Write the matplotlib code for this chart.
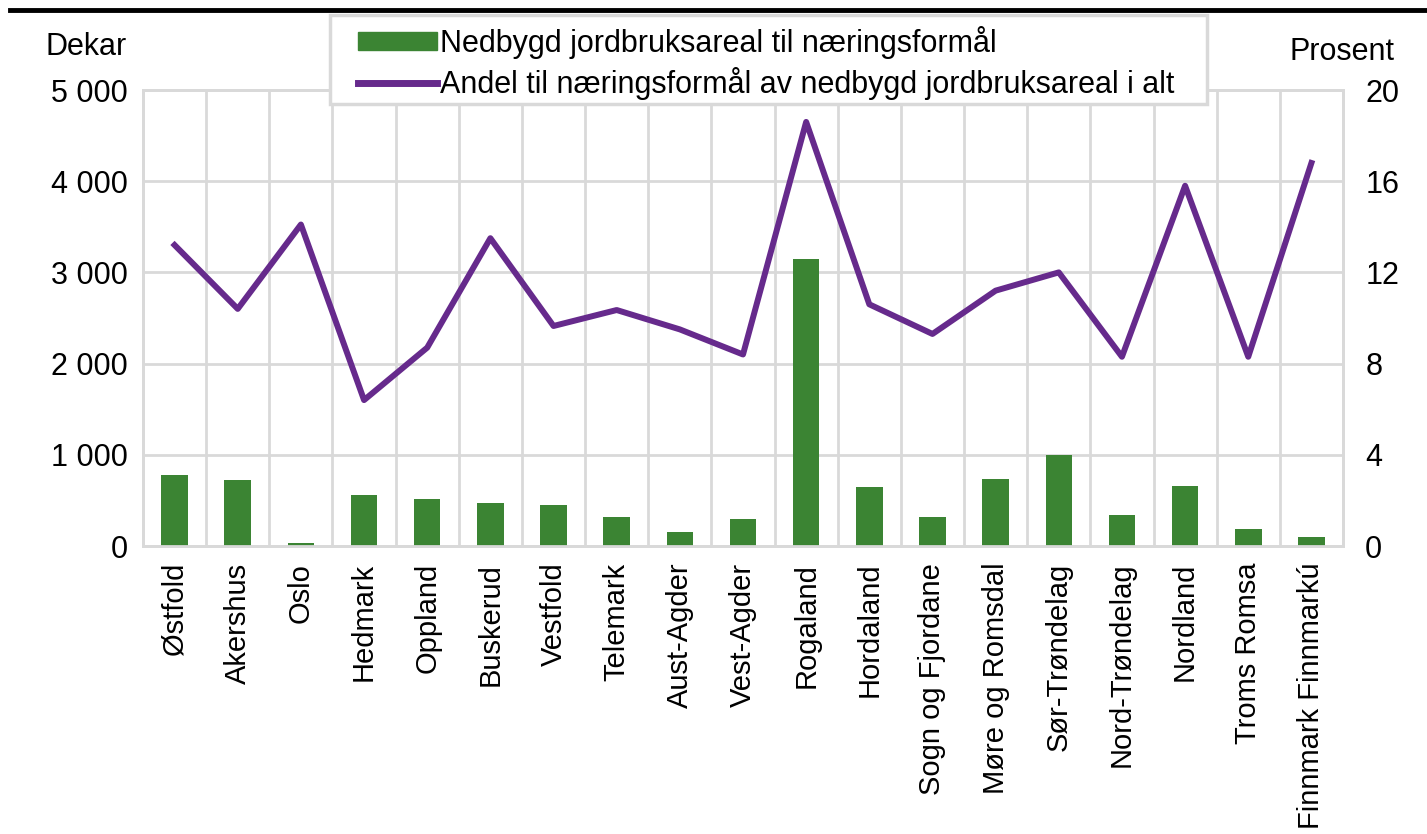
import numpy as np
import matplotlib
matplotlib.use("Agg")
import matplotlib.pyplot as plt
from matplotlib.lines import Line2D
from matplotlib.patches import Patch, Rectangle
from matplotlib.ticker import FuncFormatter

plt.rcParams['font.family'] = ['Liberation Sans', 'DejaVu Sans']

fylker = ["Østfold", "Akershus", "Oslo", "Hedmark", "Oppland", "Buskerud",
          "Vestfold", "Telemark", "Aust-Agder", "Vest-Agder", "Rogaland",
          "Hordaland", "Sogn og Fjordane", "Møre og Romsdal", "Sør-Trøndelag",
          "Nord-Trøndelag", "Nordland", "Troms Romsa", "Finnmark Finnmarkú"]
dekar = [778, 724, 35, 559, 515, 471, 450, 318, 154, 296, 3147,
         647, 318, 735, 998, 340, 658, 186, 99]
prosent = [13.2, 10.4, 14.1, 6.4, 8.7, 13.5, 9.65, 10.35, 9.5, 8.4, 18.6,
           10.6, 9.3, 11.2, 12.0, 8.3, 15.8, 8.3, 16.8]

green = "#3b8433"
purple = "#662a8c"
grid = "#d9d9d9"
fs = 22
W, H = 1427, 834

fig = plt.figure(figsize=(W / 100, H / 100), dpi=100)
ax = fig.add_axes([143 / W, 1 - 546 / H, 1200 / W, 456 / H])
ax2 = ax.twinx()

x = np.arange(len(fylker))
ax.bar(x, dekar, width=0.42, color=green, zorder=3)
ax2.plot(x, prosent, color=purple, lw=4.3, zorder=4, solid_joinstyle="round")

ax.set_xlim(-0.5, len(fylker) - 0.5)
ax.set_ylim(0, 5000)
ax2.set_ylim(0, 20)
ax.set_yticks(range(0, 5001, 1000))
ax.yaxis.set_major_formatter(FuncFormatter(lambda v, p: f"{int(v):,}".replace(",", " ")))
ax2.set_yticks(range(0, 21, 4))

ax.set_xticks(x)
ax.set_xticklabels(fylker, rotation=90, fontsize=21)
ax.set_xticks(np.arange(-0.5, len(fylker), 1), minor=True)
ax.grid(True, which="minor", axis="x", color=grid, lw=2, zorder=0)
ax.grid(True, which="major", axis="y", color=grid, lw=2, zorder=0)
ax.tick_params(axis="x", which="both", length=0, pad=12)
ax.tick_params(axis="y", length=0, labelsize=fs, pad=11)
ax2.tick_params(axis="y", length=0, labelsize=fs, pad=16)

for a in (ax, ax2):
    for s in a.spines.values():
        s.set_color(grid)
        s.set_linewidth(2)

fig.text(86 / W, 1 - 47 / H, "Dekar", fontsize=fs, ha="center", va="center")
fig.text(1395 / W, 1 - 52 / H, "Prosent", fontsize=fs, ha="right", va="center")

fig.add_artist(Line2D([10 / W, 1], [1 - 10 / H, 1 - 10 / H], color="black", lw=3.5))

# legend box
fig.add_artist(Rectangle((330 / W, 1 - 104 / H), 877 / W, 89 / H,
                         transform=fig.transFigure, facecolor="white",
                         edgecolor=grid, lw=2.5, zorder=5))
handles = [Patch(color=green, label="Nedbygd jordbruksareal til næringsformål"),
           Line2D([], [], color=purple, lw=5,
                  label="Andel til næringsformål av nedbygd jordbruksareal i alt")]
leg = fig.legend(handles=handles, loc="upper left",
                 bbox_to_anchor=(358 / W, 1 - 26 / H), fontsize=fs,
                 frameon=False, handlelength=2.6, handleheight=0.5,
                 handletextpad=0.1, borderpad=0, labelspacing=0.26, borderaxespad=0)
leg.set_zorder(6)

fig.savefig("out.png", dpi=100)
